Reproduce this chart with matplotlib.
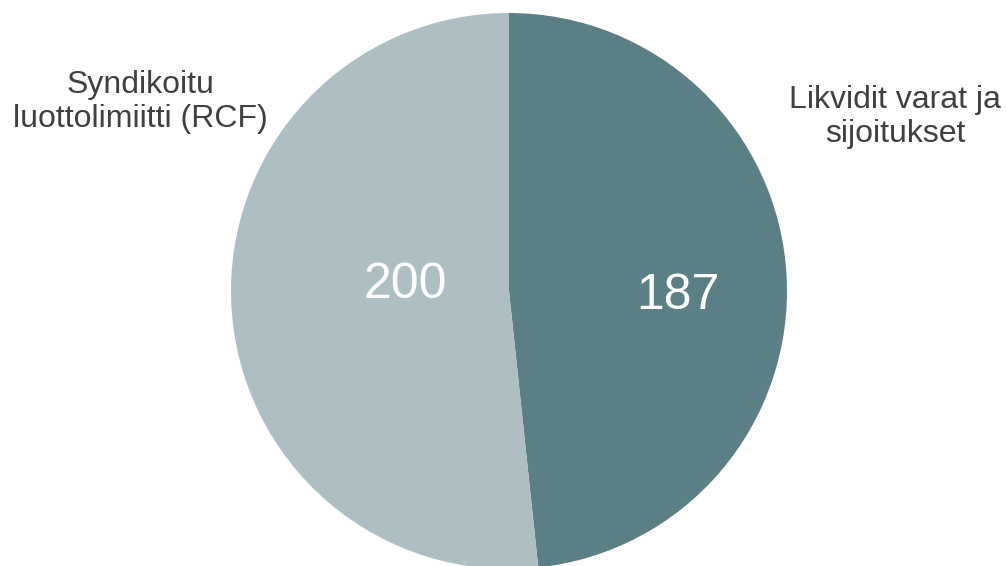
import matplotlib
matplotlib.use("Agg")
import matplotlib.pyplot as plt

# ── Data ─────────────────────────────────────────────────────────────
labels = ["Likvidit varat ja\nsijoitukset", "Syndikoitu\nluottolimiitti (RCF)"]
values = [187, 200]
colors = ["#5A8086", "#ADBFC3"]

plt.rcParams["font.family"] = ["Liberation Sans", "DejaVu Sans"]

fig = plt.figure(figsize=(10.06, 5.66), dpi=100)
ax = fig.add_axes([0, 0, 1, 1])

# pie in pixel-like coordinates
cx, cy, r = 509, 275, 278
wedges, _ = ax.pie(
    values, colors=colors, startangle=90, counterclock=False,
    center=(cx, cy), radius=r, wedgeprops=dict(linewidth=0),
)
ax.set_xlim(0, 1006)
ax.set_ylim(0, 566)
ax.set_aspect("equal")
ax.axis("off")

# values inside slices
ax.text(678, 566 - 296, str(values[0]), color="white", fontsize=36,
        ha="center", va="center")
ax.text(405, 566 - 285, str(values[1]), color="white", fontsize=36,
        ha="center", va="center")

# outside labels
ax.text(895, 566 - 117, labels[0], color="#404040", fontsize=23,
        ha="center", va="center", linespacing=1.17)
ax.text(140, 566 - 102, labels[1], color="#404040", fontsize=23,
        ha="center", va="center", linespacing=1.17)

fig.savefig("out.png", dpi=100, facecolor="white")
